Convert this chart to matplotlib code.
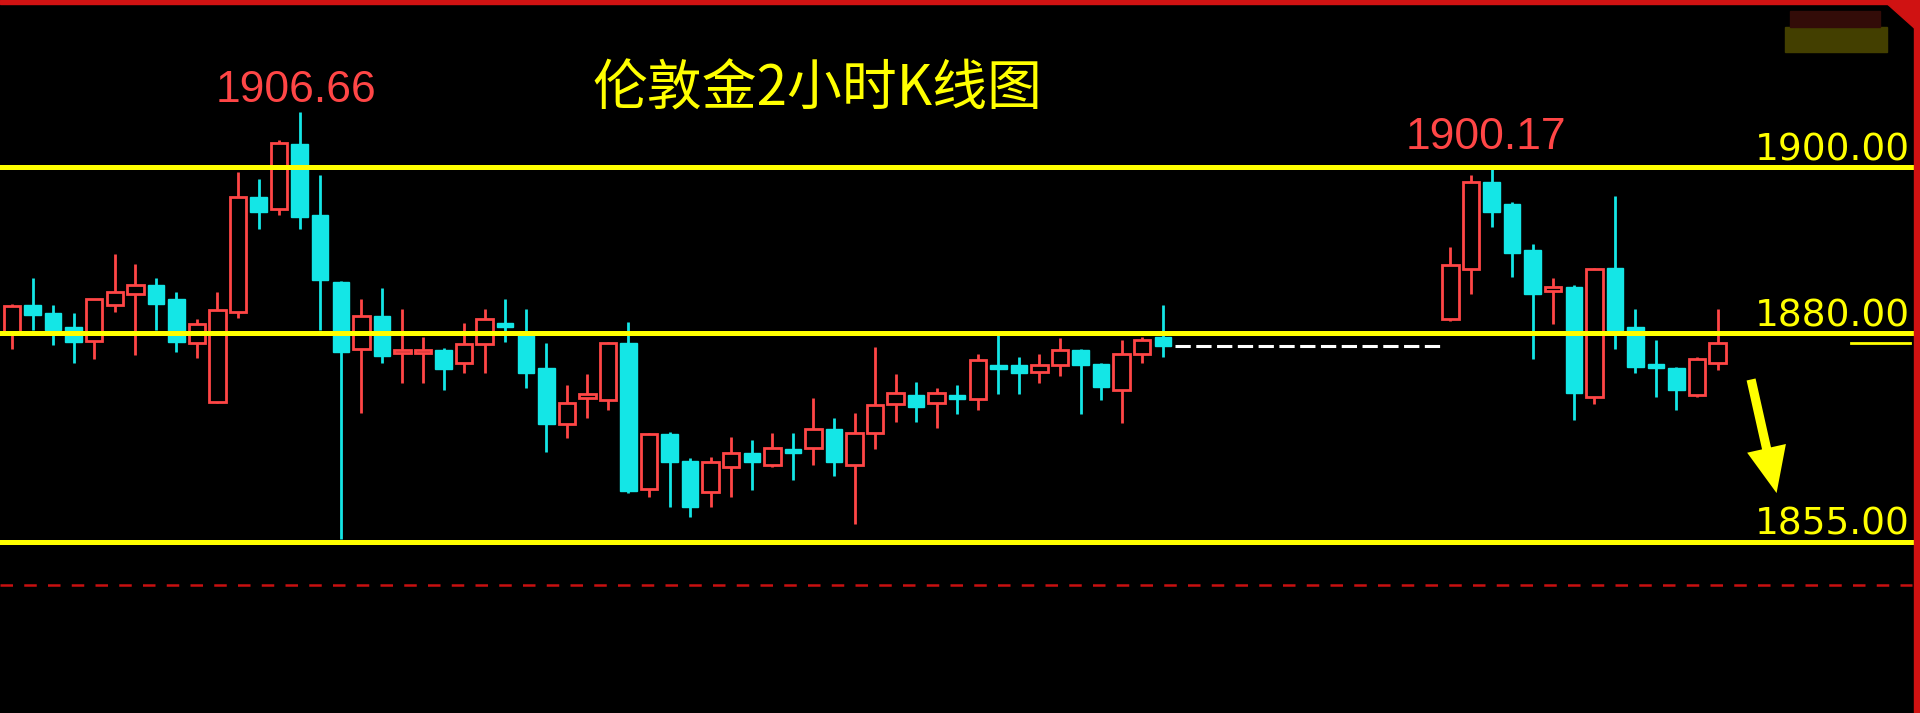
"""
London gold 2-hour candlestick chart
"""

import numpy as np
import matplotlib
matplotlib.use("Agg")
import matplotlib.pyplot as plt
from matplotlib.patches import Rectangle, Polygon

# OHLC, NaN = bars missing from the picture
nan = np.nan
opens = [1880.2, 1883.4, 1882.5, 1880.8, 1879.1, 1883.4, 1884.8, 1885.8, 1884.2, 1878.8,
         1871.8, 1882.6, 1896.4, 1895.0, 1902.8, 1894.2, 1886.2, 1878.1, 1882.1, 1877.6,
         1877.6, 1878.0, 1876.5, 1878.7, 1881.3, 1880.2, 1875.9, 1869.1, 1872.3, 1872.0,
         1878.8, 1861.3, 1867.9, 1864.7, 1861.0, 1863.9, 1865.6, 1864.2, 1866.1, 1866.3,
         1868.5, 1864.2, 1868.0, 1871.5, 1872.6, 1871.6, 1872.4, 1872.1, 1876.2, 1876.2,
         1875.4, 1876.2, 1878.0, 1876.3, 1873.2, 1877.5, 1879.6,
         nan, nan, nan, nan, nan, nan, nan, nan, nan, nan, nan, nan, nan,
         1881.8, 1887.8, 1898.2, 1895.5, 1890.0, 1885.1, 1885.6, 1872.4, 1887.9, 1880.8,
         1876.3, 1875.9, 1872.6, 1876.5]
highs = [1883.5, 1886.7, 1883.4, 1882.5, 1884.2, 1889.5, 1888.3, 1886.7, 1885.0, 1881.7,
         1885.0, 1899.4, 1898.6, 1903.2, 1906.66, 1899.0, 1886.3, 1884.2, 1885.5, 1882.9,
         1879.6, 1878.3, 1881.3, 1882.9, 1884.2, 1882.9, 1878.8, 1873.8, 1875.1, 1879.0,
         1881.4, 1868.1, 1868.2, 1865.0, 1865.2, 1867.6, 1867.2, 1868.1, 1868.1, 1872.3,
         1869.8, 1870.5, 1878.4, 1875.1, 1874.2, 1873.4, 1873.8, 1877.5, 1879.8, 1877.2,
         1877.5, 1879.5, 1878.1, 1876.4, 1879.2, 1879.6, 1883.4,
         nan, nan, nan, nan, nan, nan, nan, nan, nan, nan, nan, nan, nan,
         1890.4, 1899.0, 1900.17, 1895.8, 1890.7, 1886.7, 1885.8, 1887.9, 1896.5, 1882.9,
         1879.2, 1876.0, 1877.2, 1882.9]
lows = [1878.1, 1880.4, 1878.6, 1876.5, 1876.9, 1882.6, 1877.4, 1880.4, 1877.8, 1877.0,
        1871.7, 1881.9, 1892.6, 1894.2, 1892.6, 1880.4, 1855.3, 1870.4, 1876.5, 1874.1,
        1874.1, 1873.2, 1875.3, 1875.3, 1879.0, 1873.5, 1865.8, 1867.5, 1869.9, 1870.8,
        1860.8, 1860.3, 1859.1, 1858.0, 1859.2, 1860.4, 1861.2, 1864.0, 1862.4, 1864.2,
        1862.9, 1857.1, 1866.1, 1869.4, 1869.4, 1868.7, 1870.3, 1870.8, 1872.7, 1872.7,
        1874.1, 1874.9, 1870.3, 1872.0, 1869.2, 1876.5, 1877.2,
        nan, nan, nan, nan, nan, nan, nan, nan, nan, nan, nan, nan, nan,
        1881.5, 1884.7, 1892.8, 1886.8, 1876.9, 1881.2, 1869.6, 1871.5, 1878.1, 1875.2,
        1872.4, 1870.8, 1872.4, 1875.6]
closes = [1883.3, 1882.2, 1880.4, 1879.0, 1884.1, 1885.0, 1885.8, 1883.5, 1879.0, 1881.2,
          1882.8, 1896.4, 1894.6, 1902.9, 1894.0, 1886.4, 1877.8, 1882.1, 1877.3, 1877.8,
          1877.8, 1875.7, 1878.7, 1881.7, 1880.8, 1875.2, 1869.1, 1871.7, 1872.5, 1878.9,
          1861.1, 1867.9, 1864.6, 1859.1, 1864.5, 1865.6, 1864.6, 1866.3, 1865.7, 1868.5,
          1864.6, 1868.0, 1871.4, 1872.8, 1871.2, 1872.9, 1872.1, 1876.8, 1875.7, 1875.3,
          1876.2, 1878.0, 1876.2, 1873.6, 1877.5, 1879.2, 1878.5,
          nan, nan, nan, nan, nan, nan, nan, nan, nan, nan, nan, nan, nan,
          1888.2, 1898.2, 1894.6, 1889.7, 1884.8, 1885.3, 1872.8, 1887.8, 1880.4, 1876.0,
          1875.8, 1873.2, 1876.9, 1878.8]

levels = [1900.00, 1880.00, 1855.00]
red_dash_level = 1849.8
title = "伦敦金2小时K线图"

UP = "#ff4646"
DOWN = "#14e6e6"
YELLOW = "#ffff00"
FRAME = "#d01212"


def main():
    o = np.array(opens)
    h = np.array(highs)
    l = np.array(lows)
    c = np.array(closes)
    x = np.arange(len(o))
    valid = ~np.isnan(o)

    fig = plt.figure(figsize=(19.2, 7.13), dpi=100, facecolor="black")
    ax = fig.add_axes([0, 0, 1, 1])
    ax.set_facecolor("black")
    ax.set_xlim(-0.584, 92.85)
    ax.set_ylim(1834.4, 1920.07)
    ax.axis("off")

    w = 0.8
    for i in x[valid]:
        up = c[i] >= o[i]
        col = UP if up else DOWN
        ax.vlines(i, l[i], h[i], color=col, lw=2.0, zorder=2)
        bottom = min(o[i], c[i])
        height = max(abs(c[i] - o[i]), 0.45)
        if up:
            rect = Rectangle((i - w / 2, bottom), w, height, facecolor="black",
                             edgecolor=col, lw=2.0, zorder=3)
        else:
            rect = Rectangle((i - w / 2, bottom), w, height, facecolor=col,
                             edgecolor=col, lw=1.0, zorder=3)
        ax.add_patch(rect)

    # support / resistance lines
    for lv in levels:
        ax.axhline(lv, xmin=0, xmax=0.9965, color=YELLOW, lw=3.6, zorder=4)
        ax.annotate(f"{lv:.2f}", xy=(0.9948, lv), xycoords=ax.get_yaxis_transform(),
                    xytext=(0, 5), textcoords="offset points", ha="right",
                    va="baseline", color=YELLOW, fontsize=27, family="DejaVu Sans")

    ax.axhline(red_dash_level, xmin=0, xmax=0.996, color="#c81010", lw=1.8,
               ls=(0, (5, 4.5)), zorder=1)

    # last close of first block carried across the gap
    gap = np.where(~valid)[0]
    last_i = gap[0] - 1
    ax.hlines(c[last_i], last_i + 0.6, gap[-1] + 0.5, color="white", lw=2.2,
              ls=(0, (5, 1.8)), zorder=2)

    # current price marker
    ax.axhline(c[valid][-1], xmin=0.964, xmax=0.995, color=YELLOW, lw=2.0, zorder=4)

    # high labels for both blocks
    left = slice(0, gap[0])
    right = slice(gap[-1] + 1, len(h))
    il = np.nanargmax(h[left])
    ir = gap[-1] + 1 + np.nanargmax(h[right])
    hl_font = ["Liberation Sans Narrow", "Liberation Sans"]
    ax.annotate(f"{h[il]:.2f}", xy=(il, h[il]), xytext=(-3, 7),
                textcoords="offset points", ha="center", va="baseline",
                color=UP, fontsize=32, family=hl_font)
    ax.annotate(f"{h[ir]:.2f}", xy=(ir, h[ir]), xytext=(-4, 12),
                textcoords="offset points", ha="center", va="baseline",
                color=UP, fontsize=32, family=hl_font)

    ax.text(0.4255, 0.874, title, transform=ax.transAxes, ha="center",
            va="center", color=YELLOW, fontsize=39.5,
            family=["Noto Sans CJK SC", "DejaVu Sans"])

    # arrow pointing down to 1855
    ax.annotate("", xy=(85.9, 1860.5), xytext=(84.6, 1874.8),
                arrowprops=dict(arrowstyle="simple,head_length=1.5,head_width=1.3,tail_width=0.3",
                                color=YELLOW, mutation_scale=22, lw=0))

    # frame and blurred watermark in the top right corner
    W, H = 1920, 713
    fig.patches.append(Rectangle((0, 1 - 4 / H), 1, 4 / H, transform=fig.transFigure,
                                 color=FRAME, zorder=10))
    fig.patches.append(Rectangle((1 - 6 / W, 0), 6 / W, 1, transform=fig.transFigure,
                                 color=FRAME, zorder=10))
    fig.patches.append(Polygon([(1883 / W, 1), (1, 1), (1, 1 - 33 / H)],
                               transform=fig.transFigure, color=FRAME, zorder=10))
    fig.patches.append(Rectangle((1785 / W, 1 - 52 / H), 102 / W, 25 / H,
                                 transform=fig.transFigure, color="#433f00", zorder=9))
    fig.patches.append(Rectangle((1790 / W, 1 - 27 / H), 90 / W, 16 / H,
                                 transform=fig.transFigure, color="#330c08", zorder=9))

    fig.savefig("out.png", dpi=100, facecolor="black")


if __name__ == "__main__":
    main()
